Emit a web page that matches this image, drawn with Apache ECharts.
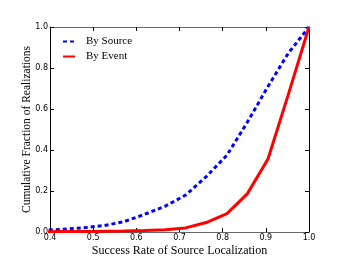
<!DOCTYPE html>
<html>
<head>
<meta charset="utf-8">
<script src="https://cdn.jsdelivr.net/npm/echarts@6/dist/echarts.min.js"></script>
<style>
html,body{margin:0;padding:0;background:#fff;}
#chart{width:360px;height:270px;}
</style>
</head>
<body>
<div id="chart"></div>
<script>
// Data
var xValues = [0.381, 0.429, 0.476, 0.524, 0.571, 0.619, 0.667, 0.714, 0.762, 0.810, 0.857, 0.905, 0.952, 1.0];
var bySource = [0.008, 0.013, 0.02, 0.031, 0.05, 0.086, 0.126, 0.18, 0.27, 0.375, 0.535, 0.71, 0.872, 1.0];
var byEvent  = [0.001, 0.002, 0.003, 0.004, 0.005, 0.007, 0.011, 0.02, 0.046, 0.09, 0.186, 0.356, 0.67, 1.0];
var seriesNames = ['By Source', 'By Event'];
var xTitle = 'Success Rate of Source Localization';
var yTitle = 'Cumulative Fraction of Realizations';

function pairs(xs, ys) { return xs.map(function (x, i) { return [x, ys[i]]; }); }

var chart = echarts.init(document.getElementById('chart'), null, {renderer: 'canvas'});
var tickFont = {fontFamily: 'DejaVu Sans', fontSize: 8, color: '#000'};
var fmt = function (v) { return v.toFixed(1); };
chart.setOption({
  animation: false,
  backgroundColor: '#fff',
  grid: {left: 50, right: 51, top: 27, bottom: 38, containLabel: false},
  legend: {
    orient: 'vertical', left: 57, top: 31, itemWidth: 12, itemHeight: 8, itemGap: 4,
    itemStyle: {opacity: 0},
    textStyle: {fontFamily: 'Liberation Serif', fontSize: 11, color: '#000', padding: [0, 0, 0, 6]},
    data: seriesNames
  },
  xAxis: [{
    type: 'value', position: 'bottom', min: 0.4, max: 1.0, interval: 0.1,
    name: xTitle, nameLocation: 'middle', nameGap: 13, nameMoveOverlap: false,
    nameTextStyle: {fontFamily: 'Liberation Serif', fontSize: 12, color: '#000'},
    axisLine: {show: true, onZero: false, lineStyle: {color: '#666', width: 1}},
    axisTick: {show: true, inside: true, length: 4, lineStyle: {color: '#000'}},
    axisLabel: Object.assign({margin: 2, formatter: fmt}, tickFont),
    splitLine: {show: false}
  }, {
    type: 'value', position: 'top', min: 0.4, max: 1.0, interval: 0.1,
    axisLine: {show: true, onZero: false, lineStyle: {color: '#666', width: 1}},
    axisTick: {show: true, inside: true, length: 4, lineStyle: {color: '#000'}},
    axisLabel: {show: false}, splitLine: {show: false}
  }],
  yAxis: [{
    type: 'value', position: 'left', min: 0, max: 1.0, interval: 0.2,
    name: yTitle, nameLocation: 'middle', nameGap: 17, nameMoveOverlap: false,
    nameTextStyle: {fontFamily: 'Liberation Serif', fontSize: 11.5, color: '#000'},
    axisLine: {show: true, onZero: false, lineStyle: {color: '#000', width: 1}},
    axisTick: {show: true, inside: true, length: 4, lineStyle: {color: '#000'}},
    axisLabel: Object.assign({margin: 2, formatter: fmt}, tickFont),
    splitLine: {show: false}
  }, {
    type: 'value', position: 'right', min: 0, max: 1.0, interval: 0.2,
    axisLine: {show: true, onZero: false, lineStyle: {color: '#000', width: 1}},
    axisTick: {show: true, inside: true, length: 4, lineStyle: {color: '#000'}},
    axisLabel: {show: false}, splitLine: {show: false}
  }],
  series: [{
    name: seriesNames[0], type: 'line', data: pairs(xValues, bySource),
    showSymbol: false, symbol: 'none', color: '#0000ff', clip: true,
    lineStyle: {color: '#0000ff', width: 3, type: [4, 3]}
  }, {
    name: seriesNames[1], type: 'line', data: pairs(xValues, byEvent),
    showSymbol: false, symbol: 'none', color: '#ff0000', clip: true,
    lineStyle: {color: '#ff0000', width: 3}
  }]
});
</script>
</body>
</html>
